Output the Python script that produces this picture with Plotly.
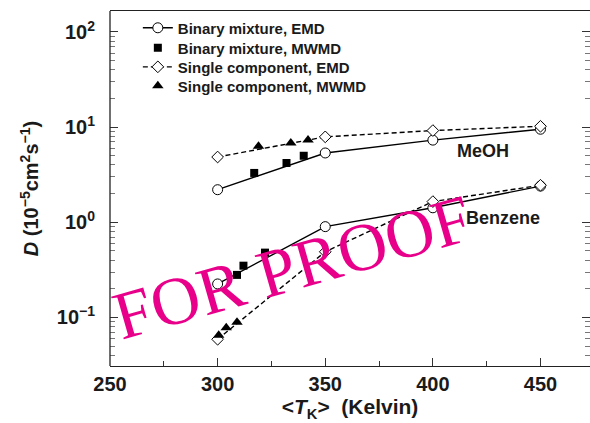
import plotly.graph_objects as go

# ---- data ----
T_emd = [300, 350, 400, 450]
meoh_bin_emd = [2.2, 5.35, 7.3, 9.5]
meoh_sng_emd = [4.85, 7.9, 9.2, 10.2]
benz_bin_emd = [0.225, 0.9, 1.42, 2.4]
benz_sng_emd = [0.059, 0.49, 1.65, 2.45]

T_meoh_bin_mw = [317, 332, 340]
meoh_bin_mw = [3.3, 4.2, 5.0]
T_meoh_sng_mw = [319, 334, 342]
meoh_sng_mw = [6.3, 6.8, 7.3]

T_benz_bin_mw = [309, 312, 322]
benz_bin_mw = [0.28, 0.35, 0.48]
T_benz_sng_mw = [300.5, 304, 309]
benz_sng_mw = [0.065, 0.078, 0.089]

legend_names = ["Binary mixture, EMD", "Binary mixture, MWMD",
                "Single component, EMD", "Single component, MWMD"]
x_ticks = [250, 300, 350, 400, 450]
y_ticks = [0.1, 1, 10, 100]
y_ticktext = ["10<sup>\u22121</sup>", "10<sup>0</sup>", "10<sup>1</sup>", "10<sup>2</sup>"]

FONT = "Liberation Sans, Arial, Helvetica, sans-serif"
LEG_IDS = ["legend", "legend2", "legend3", "legend4"]

fig = go.Figure()

def emd(x, y, i, dash, symbol, size, show):
    fig.add_trace(go.Scatter(
        x=x, y=y, name=legend_names[i], legendgroup=legend_names[i], showlegend=show,
        legend=LEG_IDS[i],
        mode="lines+markers",
        line=dict(color="black", width=1.4, dash=dash),
        marker=dict(symbol=symbol, size=size, color="white",
                    line=dict(color="black", width=1)),
    ))

def mw(x, y, i, symbol, size, show):
    fig.add_trace(go.Scatter(
        x=x, y=y, name=legend_names[i], legendgroup=legend_names[i], showlegend=show,
        legend=LEG_IDS[i],
        mode="markers",
        marker=dict(symbol=symbol, size=size, color="black",
                    line=dict(color="black", width=0)),
    ))

emd(T_emd, meoh_bin_emd, 0, "solid", "circle", 10, True)
mw(T_meoh_bin_mw, meoh_bin_mw, 1, "square", 8, True)
emd(T_emd, meoh_sng_emd, 2, "5px,3px", "diamond", 9, True)
mw(T_meoh_sng_mw, meoh_sng_mw, 3, "triangle-up", 10, True)

emd(T_emd, benz_bin_emd, 0, "solid", "circle", 10, False)
mw(T_benz_bin_mw, benz_bin_mw, 1, "square", 8, False)
emd(T_emd, benz_sng_emd, 2, "5px,3px", "diamond", 9, False)
mw(T_benz_sng_mw, benz_sng_mw, 3, "triangle-up", 10, False)

minor_y = [m * 10 ** k for k in range(-2, 3) for m in range(2, 10)]

leg_rows = [0.952, 0.896, 0.842, 0.789]
legends = {}
for lid, ly in zip(LEG_IDS, leg_rows):
    legends[lid] = dict(x=0.058, y=ly, xanchor="left", yanchor="middle",
                        bgcolor="rgba(0,0,0,0)",
                        font=dict(size=15, family=FONT, color="#1a1a1a", weight="bold"))

fig.update_layout(
    width=590, height=423,
    margin=dict(l=110, r=0, t=11, b=57),
    paper_bgcolor="white", plot_bgcolor="white",
    font=dict(family=FONT, color="#1a1a1a"),
    **legends,
    xaxis=dict(
        range=[250, 473], tickvals=x_ticks,
        ticks="inside", ticklen=8, tickwidth=1, tickcolor="#333",
        minor=dict(tickvals=[275, 325, 375, 425], ticks="inside", ticklen=5, tickcolor="#333"),
        showline=True, linecolor="#222", linewidth=1.3, mirror=True,
        showgrid=False, zeroline=False,
        tickfont=dict(size=20, weight="bold", family=FONT),
        title=dict(text="&lt;<i>T</i><sub>K</sub>&gt;  (Kelvin)",
                   font=dict(size=21, weight="bold", family=FONT), standoff=4),
    ),
    yaxis=dict(
        type="log", range=[-1.51, 2.22],
        tickvals=y_ticks, ticktext=y_ticktext,
        ticks="inside", ticklen=8, tickwidth=1, tickcolor="#333",
        minor=dict(tickvals=minor_y, ticks="inside", ticklen=5, tickcolor="#777"),
        showline=False, mirror="ticks",
        showgrid=False, zeroline=False, ticklabelstandoff=14,
        tickfont=dict(size=20, weight="bold", family=FONT),
        title=dict(text="<i>D</i> (10<sup>\u22125</sup>cm<sup>2</sup>s<sup>\u22121</sup>)",
                   font=dict(size=20, weight="bold", family=FONT), standoff=12),
    ),
)

# left axis line (right edge of the frame lies outside the picture)
fig.add_shape(type="line", xref="paper", yref="paper", x0=0, x1=0, y0=0, y1=1,
              line=dict(color="#222", width=1.3))

fig.add_annotation(x=423.4, y=0.75, xref="x", yref="y", text="MeOH",
                   showarrow=False, xanchor="center", yanchor="middle",
                   font=dict(size=18, weight="bold", family=FONT, color="#1a1a1a"))
fig.add_annotation(x=432.7, y=0.04, xref="x", yref="y", text="Benzene",
                   showarrow=False, xanchor="center", yanchor="middle",
                   font=dict(size=18, weight="bold", family=FONT, color="#1a1a1a"))

fig.add_annotation(x=0.38, y=0.28, xref="paper", yref="paper", text="FOR PROOF",
                   showarrow=False, textangle=-16, xanchor="center", yanchor="middle",
                   font=dict(size=68, family="Liberation Serif, Times New Roman, serif",
                             color="#e8008a"))

fig.write_html("out.html")
